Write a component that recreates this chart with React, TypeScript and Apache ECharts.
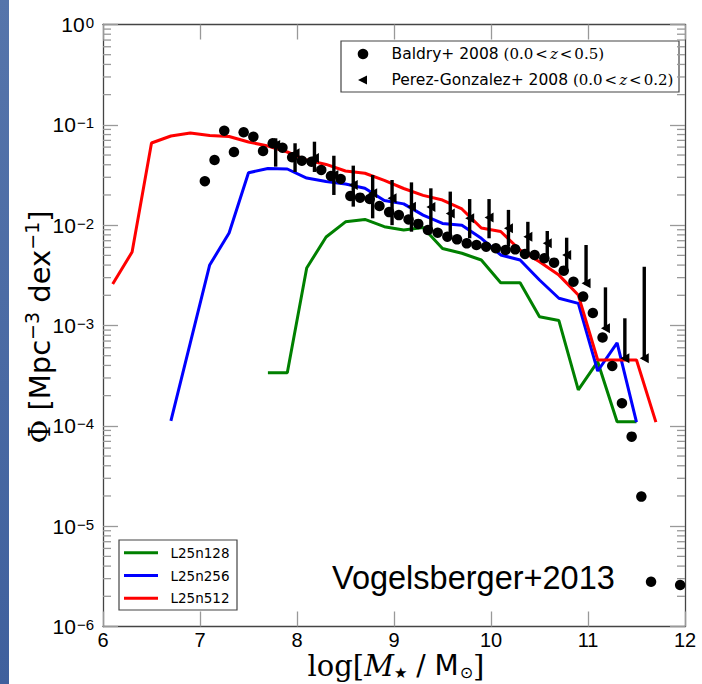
import React, { useEffect, useRef } from 'react';
import * as echarts from 'echarts';

// ---- simulation mass functions (log M*, Phi) ----
const massL25n512 = [6.1, 6.3, 6.5, 6.7, 6.9, 7.1, 7.3, 7.5, 7.7, 7.9, 8.1, 8.3, 8.5, 8.7, 8.9, 9.1, 9.3, 9.5, 9.7, 9.9, 10.1, 10.3, 10.5, 10.7, 10.9, 11.1, 11.3, 11.5, 11.7];
const phiL25n512 = [2.59e-3, 5.4e-3, 0.0659, 0.0774, 0.083, 0.0783, 0.0765, 0.0675, 0.0615, 0.0536, 0.0446, 0.0403, 0.0347, 0.0329, 0.0279, 0.0232, 0.0198, 0.0178, 0.0145, 0.00937, 0.00865, 0.00565, 0.00432, 0.00318, 0.00201, 4.53e-4, 4.53e-4, 4.53e-4, 1.09e-4];

const massL25n256 = [6.7, 6.9, 7.1, 7.3, 7.5, 7.7, 7.9, 8.1, 8.3, 8.5, 8.7, 8.9, 9.1, 9.3, 9.5, 9.7, 9.9, 10.1, 10.3, 10.5, 10.7, 10.9, 11.1, 11.3, 11.5];
const phiL25n256 = [1.12e-4, 6.7e-4, 4.01e-3, 8.35e-3, 0.0333, 0.0367, 0.0363, 0.0295, 0.0272, 0.0257, 0.0233, 0.0176, 0.0163, 0.0126, 0.0104, 0.01, 0.0074, 0.00505, 0.0045, 0.00284, 0.00187, 0.00166, 3.52e-4, 6.7e-4, 1.09e-4];

const massL25n128 = [7.7, 7.9, 8.1, 8.3, 8.5, 8.7, 8.9, 9.1, 9.3, 9.5, 9.7, 9.9, 10.1, 10.3, 10.5, 10.7, 10.9, 11.1, 11.3, 11.5];
const phiL25n128 = [3.38e-4, 3.38e-4, 3.74e-3, 7.62e-3, 0.0108, 0.0114, 0.00966, 0.00895, 0.00948, 0.00585, 0.00525, 0.0045, 0.00267, 0.00267, 1.22e-3, 1.12e-3, 2.28e-4, 4.36e-4, 1.1e-4, 1.1e-4];

// ---- Baldry+ 2008 ----
const baldryMass = [7.05, 7.15, 7.25, 7.35, 7.45, 7.55, 7.65, 7.75, 7.85, 7.95, 8.05, 8.15, 8.25, 8.35, 8.45, 8.55, 8.65, 8.75, 8.85, 8.95, 9.05, 9.15, 9.25, 9.35, 9.45, 9.55, 9.65, 9.75, 9.85, 9.95, 10.05, 10.15, 10.25, 10.35, 10.45, 10.55, 10.65, 10.75, 10.85, 10.95, 11.05, 11.15, 11.25, 11.35, 11.45, 11.55, 11.65, 11.95];
const baldryPhi = [0.0274, 0.0446, 0.0874, 0.0536, 0.0843, 0.0762, 0.0548, 0.0655, 0.0592, 0.0475, 0.0439, 0.0429, 0.0355, 0.0309, 0.0289, 0.0195, 0.0188, 0.0182, 0.0155, 0.0135, 0.0126, 0.0114, 0.0103, 0.00895, 0.00841, 0.00767, 0.00722, 0.00659, 0.00634, 0.0061, 0.00588, 0.00565, 0.00574, 0.00516, 0.00504, 0.00468, 0.00423, 0.00352, 0.00273, 0.00194, 0.00133, 7.59e-4, 3.95e-4, 1.68e-4, 7.8e-5, 1.97e-5, 2.79e-6, 2.59e-6];

// ---- Perez-Gonzalez+ 2008 ----
const pgMass = [7.78, 7.98, 8.18, 8.38, 8.58, 8.78, 8.98, 9.18, 9.38, 9.58, 9.78, 9.98, 10.18, 10.38, 10.58, 10.78, 10.98, 11.18, 11.38, 11.58];
const pgPhi = [0.063, 0.052, 0.0467, 0.0316, 0.0251, 0.0208, 0.0185, 0.0153, 0.0152, 0.0131, 0.0117, 0.0119, 0.00931, 0.00767, 0.00659, 0.00504, 0.00264, 9.38e-4, 4.71e-4, 4.71e-4];
const pgLow = [0.0383, 0.0339, 0.0339, 0.02, 0.0153, 0.0117, 0.01, 0.00861, 0.00916, 0.0074, 0.0074, 0.0074, 0.0061, 0.00543, 0.00468, 0.00372, 0.00253, 9.02e-4, 4.53e-4, 4.53e-4];
const pgHigh = [0.0734, 0.0655, 0.0679, 0.0492, 0.0392, 0.0316, 0.0282, 0.0267, 0.0233, 0.0216, 0.0182, 0.0182, 0.0142, 0.0108, 0.00875, 0.0075, 0.00634, 0.0024, 0.00118, 0.00385];

// ---- axis decorations ----
const minorDecades = [-6, -5, -4, -3, -2, -1];
const minorMultipliers = [2, 3, 4, 5, 6, 7, 8, 9];
const xMin = 6;
const xMax = 12;

const simSeries = [
  { name: 'L25n128', mass: massL25n128, phi: phiL25n128, color: '#008000' },
  { name: 'L25n256', mass: massL25n256, phi: phiL25n256, color: '#0000ff' },
  { name: 'L25n512', mass: massL25n512, phi: phiL25n512, color: '#ff0000' },
];

const SANS = 'Liberation Sans, Arial, sans-serif';
const DJ = 'DejaVu Sans, sans-serif';
const DJS = 'DejaVu Serif, serif';

export default function App() {
  const ref = useRef<HTMLDivElement>(null);

  useEffect(() => {
    const chart = echarts.init(ref.current!, null, { renderer: 'svg' });

    const minorData: number[][] = [];
    minorDecades.forEach((d) => {
      minorMultipliers.forEach((m) => {
        const v = m * Math.pow(10, d);
        minorData.push([xMin, v]);
        minorData.push([xMax, v]);
      });
    });

    const axisLine = { show: true, onZero: false, lineStyle: { color: '#444', width: 1.3 } };
    const axisTick = { show: true, inside: true, length: 15, lineStyle: { color: '#999', width: 1.3 } };

    const legendRich = {
      a: { fontSize: 15.5, fontFamily: DJ, fill: '#000' },
      m: { fontSize: 15, fontFamily: DJS, fill: '#000' },
      o: { fontSize: 15, fontFamily: DJS, fill: '#000', padding: [0, 2, 0, 2] },
      i: { fontSize: 15, fontFamily: DJS, fontStyle: 'italic', fill: '#000' },
    };

    const option: any = {
      animation: false,
      backgroundColor: '#ffffff',
      grid: { left: 103, right: 17, top: 24.5, bottom: 57.5, containLabel: false, outerBoundsMode: 'none' },
      xAxis: [
        {
          type: 'value', min: xMin, max: xMax, interval: 1, position: 'bottom',
          axisLine, axisTick, splitLine: { show: false },
          axisLabel: { fontSize: 20, fontFamily: SANS, color: '#000', margin: 3 },
        },
        {
          type: 'value', min: xMin, max: xMax, interval: 1, position: 'top',
          axisLine, axisTick, splitLine: { show: false }, axisLabel: { show: false },
        },
      ],
      yAxis: [
        {
          type: 'log', logBase: 10, min: 1e-6, max: 1, splitNumber: 6, position: 'left',
          axisLine, axisTick, splitLine: { show: false },
          axisLabel: {
            margin: 9,
            formatter: (v: number) => {
              const e = Math.round(Math.log10(v));
              const s = e === 0 ? '0' : '\u2212' + String(-e);
              return '{b|10}{s|' + s + '}';
            },
            rich: {
              b: { fontSize: 21, fontFamily: SANS, color: '#000', lineHeight: 21, padding: [6, 0, 0, 0], verticalAlign: 'bottom' },
              s: { fontSize: 15, fontFamily: SANS, color: '#000', lineHeight: 15, padding: [1, 0, 0, 1], verticalAlign: 'top' },
            },
          },
        },
        {
          type: 'log', logBase: 10, min: 1e-6, max: 1, splitNumber: 6, position: 'right',
          axisLine, axisTick, splitLine: { show: false }, axisLabel: { show: false },
        },
      ],
      series: [
        ...simSeries.map((s) => ({
          name: s.name,
          type: 'line',
          xAxisIndex: 0, yAxisIndex: 0,
          data: s.mass.map((m, i) => [m, s.phi[i]]),
          showSymbol: false, symbol: 'none',
          lineStyle: { color: s.color, width: 3 },
          itemStyle: { color: s.color },
          z: 2,
        })),
        {
          name: 'PG errors',
          type: 'custom',
          xAxisIndex: 0, yAxisIndex: 0,
          encode: { x: 0, y: [1, 2] },
          data: pgMass.map((m, i) => [m, pgLow[i], pgHigh[i]]),
          renderItem: (params: any, api: any) => {
            const p1 = api.coord([api.value(0), api.value(1)]);
            const p2 = api.coord([api.value(0), api.value(2)]);
            return {
              type: 'line',
              shape: { x1: p1[0], y1: p1[1], x2: p2[0], y2: p2[1] },
              style: { stroke: '#000', lineWidth: 3.4 },
            };
          },
          z: 3,
        },
        {
          name: 'Perez-Gonzalez+ 2008',
          type: 'scatter',
          xAxisIndex: 0, yAxisIndex: 0,
          data: pgMass.map((m, i) => [m, pgPhi[i]]),
          symbol: 'path://M0,5L10,0L10,10Z',
          symbolSize: [9, 10],
          itemStyle: { color: '#000', opacity: 1 },
          z: 4,
        },
        {
          name: 'Baldry+ 2008',
          type: 'scatter',
          xAxisIndex: 0, yAxisIndex: 0,
          data: baldryMass.map((m, i) => [m, baldryPhi[i]]),
          symbol: 'circle',
          symbolSize: 10.5,
          itemStyle: { color: '#000', opacity: 1 },
          z: 4,
        },
        {
          name: 'minor ticks',
          type: 'custom',
          xAxisIndex: 0, yAxisIndex: 0,
          silent: true,
          clip: false,
          encode: { x: 0, y: 1 },
          data: minorData,
          renderItem: (params: any, api: any) => {
            const x = api.value(0);
            const p = api.coord([x, api.value(1)]);
            const dir = x < (xMin + xMax) / 2 ? 1 : -1;
            return {
              type: 'line',
              shape: { x1: p[0], y1: p[1], x2: p[0] + dir * 8, y2: p[1] },
              style: { stroke: '#999', lineWidth: 1.3 },
            };
          },
          z: 1,
        },
      ],
      graphic: [
        {
          type: 'rect', z: -10, silent: true,
          shape: { x: 0, y: 0, width: 9, height: 684 },
          style: {
            fill: new echarts.graphic.LinearGradient(0, 0, 0, 1, [
              { offset: 0, color: '#5675ab' },
              { offset: 1, color: '#3f609d' },
            ]),
          },
        },
        // top-right legend
        {
          type: 'group', z: 100,
          children: [
            { type: 'rect', shape: { x: 341, y: 41, width: 338, height: 51 }, style: { fill: '#fff', stroke: '#444', lineWidth: 1.2 } },
            { type: 'circle', shape: { cx: 363, cy: 54, r: 5.3 }, style: { fill: '#000' } },
            { type: 'polygon', shape: { points: [[358, 80], [367, 75.5], [367, 84.5]] }, style: { fill: '#000' } },
            {
              type: 'text', x: 391.5, y: 54,
              style: {
                text: '{a|Baldry+ 2008 }{m|(0.0}{o|<}{i|z}{o|<}{m|0.5)}',
                verticalAlign: 'middle', align: 'left', rich: legendRich,
              },
            },
            {
              type: 'text', x: 391.5, y: 80,
              style: {
                text: '{a|Perez-Gonzalez+ 2008 }{m|(0.0}{o|<}{i|z}{o|<}{m|0.2)}',
                verticalAlign: 'middle', align: 'left', rich: legendRich,
              },
            },
          ],
        },
        // bottom-left legend
        {
          type: 'group', z: 100,
          children: [
            { type: 'rect', shape: { x: 119, y: 540, width: 118, height: 70 }, style: { fill: '#fff', stroke: '#444', lineWidth: 1.2 } },
            ...simSeries.map((s, i) => ({
              type: 'line',
              shape: { x1: 124, y1: 552.7 + i * 22.8, x2: 158, y2: 552.7 + i * 22.8 },
              style: { stroke: s.color, lineWidth: 3 },
            })),
            ...simSeries.map((s, i) => ({
              type: 'text', x: 170.5, y: 552.7 + i * 22.8,
              style: { text: s.name, fontSize: 13.5, fontFamily: DJ, fill: '#000', verticalAlign: 'middle', align: 'left' },
            })),
          ],
        },
        {
          type: 'text', x: 332, y: 578, z: 100,
          style: { text: 'Vogelsberger+2013', fontSize: 32.5, fontFamily: SANS, fill: '#000', verticalAlign: 'middle', align: 'left' },
        },
        // y-axis title
        {
          type: 'text', x: 38, y: 327, rotation: Math.PI / 2, z: 100,
          style: {
            text: '{f|\u03A6}{n| [Mpc}{s|\u22123}{n| dex}{s|\u22121}{n|]}',
            align: 'center', verticalAlign: 'middle',
            rich: {
              f: { fontSize: 29, fontFamily: DJS, fill: '#000', lineHeight: 32, verticalAlign: 'bottom' },
              n: { fontSize: 29, fontFamily: DJ, fill: '#000', lineHeight: 32, verticalAlign: 'bottom' },
              s: { fontSize: 19, fontFamily: DJ, fill: '#000', lineHeight: 16, verticalAlign: 'top' },
            },
          },
        },
        // x-axis title
        {
          type: 'text', x: 396, y: 666, z: 100,
          style: {
            text: '{r|log[}{i|M}{t|\u2605}{n| / M}{o|\u2299}{r|]}',
            align: 'center', verticalAlign: 'middle',
            rich: {
              r: { fontSize: 29, fontFamily: DJS, fill: '#000', lineHeight: 29, verticalAlign: 'top' },
              i: { fontSize: 29, fontFamily: DJS, fontStyle: 'italic', fill: '#000', lineHeight: 29, verticalAlign: 'top' },
              n: { fontSize: 28, fontFamily: DJ, fill: '#000', lineHeight: 29, verticalAlign: 'top' },
              t: { fontSize: 15, fontFamily: DJ, fill: '#000', lineHeight: 15, padding: [14, 0, 0, 0], verticalAlign: 'top' },
              o: { fontSize: 16, fontFamily: DJ, fill: '#000', lineHeight: 16, padding: [13, 0, 0, 1], verticalAlign: 'top' },
            },
          },
        },
      ],
    };

    chart.setOption(option);
    return () => chart.dispose();
  }, []);

  return (
    <div
      ref={ref}
      style={{ position: 'absolute', left: 0, top: 0, width: 702, height: 684, background: '#fff' }}
    />
  );
}
